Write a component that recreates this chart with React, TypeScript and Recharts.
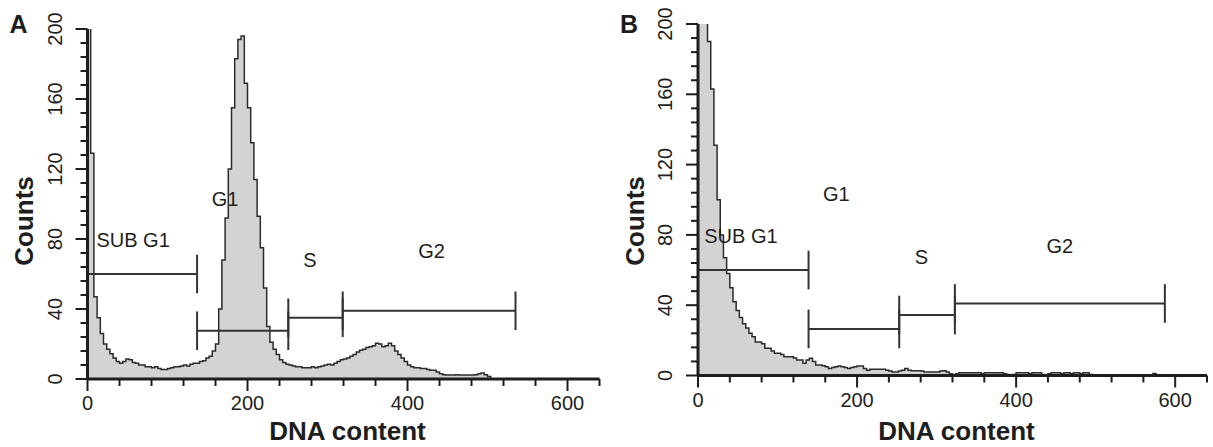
import React from 'react';
import { AreaChart, Area, XAxis, YAxis, ReferenceLine, ReferenceDot } from 'recharts';

// ---------- data ----------
const BIN_WIDTH = 4;
const X_MAX = 640;

const xTicks = [0, 40, 80, 120, 160, 200, 240, 280, 320, 360, 400, 440, 480, 520, 560, 600, 640];
const xLabelTicks = [0, 200, 400, 600];
const yTicks = [0, 8, 16, 24, 32, 40, 48, 56, 64, 72, 80, 88, 96, 104, 112, 120, 128, 136, 144, 152, 160, 168, 176, 184, 192, 200];
const yLabelTicks = [0, 40, 80, 120, 160, 200];

// Panel A histogram counts (bins of 4 DNA-content units, starting at 0)
const countsA = [
  400, 129, 47, 35, 26, 20, 17, 14.5, 12, 10,
  9, 10, 11.5, 11, 9.5, 9, 8, 8, 7, 7,
  6.5, 7, 6, 5.5, 5.5, 6, 6.5, 7, 7, 7.5,
  8, 7.5, 8.5, 9, 9, 10, 10.5, 12, 13, 16,
  20, 40, 68, 92, 120, 155, 183, 194, 196, 169,
  155, 135, 114, 93, 75, 52, 30, 21, 17, 14,
  11, 9.5, 8.5, 8, 7.5, 7, 7, 6.5, 6.5, 6.5,
  7, 6.5, 7, 7.5, 8, 8.5, 8, 9, 10, 11,
  11.5, 12, 13, 14, 15.5, 16.5, 17, 18, 18.5, 19,
  20.5, 20, 18.5, 19, 20.5, 19, 16, 14, 12, 10,
  8, 7, 6.5, 6.5, 6, 6, 5.5, 5, 5, 4,
  3, 2.5, 2.3, 2.3, 2.3, 2.5, 2.3, 2.3, 2.3, 2.3,
  2.3, 2.5, 3, 3.5, 2.5, 1.5, 0,
];

// Panel B histogram counts
const countsB = [
  400, 400, 400, 190, 163, 131, 100, 80, 67, 58,
  50, 42, 37, 33, 29.5, 27, 24, 22, 19, 19,
  18, 15.5, 15.5, 14, 12.6, 12.6, 12, 10.7, 10.7, 10.7,
  10, 8.8, 8.8, 7, 8.8, 9.8, 8, 6, 6, 5.5,
  5, 4, 4.5, 5, 5.4, 5, 4.5, 4, 4.5, 5,
  5.4, 5.4, 4, 3, 3.5, 3.5, 3.5, 3.5, 3.5, 3,
  2.5, 2, 2, 2.5, 3, 4, 3, 2.7, 2.7, 2.7,
  2.5, 2, 2, 2, 2, 2, 2.5, 2.7, 2, 1,
  0, 1, 1.6, 1.6, 1.6, 1.6, 1.6, 1.6, 1.6, 1,
  1.6, 1.6, 1.6, 1.6, 1.6, 1.6, 1, 0.5, 0, 0.5,
  1.6, 1.6, 1.6, 1.6, 1, 1.6, 1.6, 1.6, 0.5, 0,
  1, 1.6, 1.6, 1.6, 1, 1.6, 1.6, 1, 1.6, 1.6,
  1, 1.6, 1.6, 0.5, 0, 0, 0, 0, 0, 0,
  0, 0, 0, 0, 0, 0, 0, 0, 0, 0,
  0, 0, 0, 1.2, 0,
];

const gateNames = ['SUB G1', 'G1', 'S', 'G2'];

const gateStartA = [0, 137, 251, 319];
const gateEndA = [137, 251, 319, 535];
const gateLevelA = [60, 27.6, 35, 39];
const labelXA = [57, 172, 278, 430];
const labelYA = [79.4, 103, 68, 73];

const gateStartB = [0, 139, 253, 323];
const gateEndB = [139, 253, 323, 587];
const gateLevelB = [60, 26.5, 34.4, 41];
const labelXB = [54, 174, 281, 455];
const labelYB = [79.6, 103.3, 67.7, 73.7];

const CAP_HALF = 11;

const toSeries = (counts: number[]) => [
  ...counts.map((c, i) => ({ x: i * BIN_WIDTH, count: c })),
  { x: X_MAX, count: 0 },
];

// ---------- styling ----------
const INK = '#1e1e1e';
const FILL = '#d3d3d3';
const FONT = '"Liberation Sans", Arial, Helvetica, sans-serif';

const XTick = (p: any) => {
  const { x, y, payload } = p;
  const v = payload.value;
  const major = xLabelTicks.includes(v);
  return (
    <g>
      <line x1={x} x2={x} y1={y} y2={y + (major ? 12 : 7)} stroke={INK} strokeWidth={2} />
      {major && (
        <text x={x} y={y + 31} textAnchor="middle" fontSize={20} fill={INK} fontFamily={FONT}>
          {v}
        </text>
      )}
    </g>
  );
};

const YTick = (p: any) => {
  const { x, y, payload } = p;
  const v = payload.value;
  const major = yLabelTicks.includes(v);
  const tx = x - 26;
  return (
    <g>
      <line x1={x - (major ? 12 : 7)} x2={x} y1={y} y2={y} stroke={INK} strokeWidth={2} />
      {major && (
        <text
          x={tx}
          y={y}
          transform={`rotate(-90, ${tx}, ${y})`}
          textAnchor="middle"
          fontSize={20}
          fill={INK}
          fontFamily={FONT}
        >
          {v}
        </text>
      )}
    </g>
  );
};

interface PanelProps {
  letter: string;
  counts: number[];
  starts: number[];
  ends: number[];
  levels: number[];
  lx: number[];
  ly: number[];
  width: number;
  margin: { top: number; right: number; bottom: number; left: number };
}

const Panel = ({ letter, counts, starts, ends, levels, lx, ly, width, margin }: PanelProps) => {
  const data = toSeries(counts);
  const yLabel = (props: any) => {
    const vb = props.viewBox || { x: 0, y: 0, width: 60, height: 0 };
    const axisX = vb.x + vb.width;
    const cx = axisX - 54.5;
    return (
      <g>
        <text
          x={cx}
          y={221}
          transform={`rotate(-90, ${cx}, 221)`}
          textAnchor="middle"
          fontSize={26}
          fontWeight="bold"
          fill={INK}
          fontFamily={FONT}
        >
          Counts
        </text>
        <text x={axisX - 78} y={33} fontSize={25} fontWeight="bold" fill={INK} fontFamily={FONT}>
          {letter}
        </text>
      </g>
    );
  };
  const xLabel = (props: any) => {
    const vb = props.viewBox || { x: 0, y: 0, width: 0, height: 0 };
    return (
      <text
        x={vb.x + vb.width / 2 + 4}
        y={440}
        textAnchor="middle"
        fontSize={26}
        fontWeight="bold"
        fill={INK}
        fontFamily={FONT}
      >
        DNA content
      </text>
    );
  };

  return (
    <AreaChart width={width} height={447} data={data} margin={margin}>
      <XAxis
        dataKey="x"
        type="number"
        domain={[0, X_MAX]}
        ticks={xTicks}
        interval={0}
        allowDataOverflow
        height={60}
        tickLine={false}
        tickSize={0}
        tickMargin={0}
        tick={XTick}
        axisLine={{ stroke: INK, strokeWidth: 3 }}
        label={xLabel}
      />
      <YAxis
        type="number"
        domain={[0, 200]}
        ticks={yTicks}
        interval={0}
        allowDataOverflow
        width={60}
        tickLine={false}
        tickSize={0}
        tickMargin={0}
        tick={YTick}
        axisLine={{ stroke: INK, strokeWidth: 3 }}
        label={yLabel}
      />
      <Area
        type="stepAfter"
        dataKey="count"
        stroke="#2b2b2b"
        strokeWidth={1.5}
        fill={FILL}
        fillOpacity={1}
        dot={false}
        activeDot={false}
        isAnimationActive={false}
      />
      {gateNames.map((name, i) => (
        <ReferenceLine
          key={`h-${name}`}
          segment={[
            { x: starts[i], y: levels[i] },
            { x: ends[i], y: levels[i] },
          ]}
          stroke="#333"
          strokeWidth={2}
        />
      ))}
      {gateNames.map((name, i) =>
        starts[i] > 0 ? (
          <ReferenceLine
            key={`cs-${name}`}
            segment={[
              { x: starts[i], y: levels[i] - CAP_HALF },
              { x: starts[i], y: levels[i] + CAP_HALF },
            ]}
            stroke="#333"
            strokeWidth={2}
          />
        ) : null
      )}
      {gateNames.map((name, i) => (
        <ReferenceLine
          key={`ce-${name}`}
          segment={[
            { x: ends[i], y: levels[i] - CAP_HALF },
            { x: ends[i], y: levels[i] + CAP_HALF },
          ]}
          stroke="#333"
          strokeWidth={2}
        />
      ))}
      {gateNames.map((name, i) => (
        <ReferenceDot
          key={`l-${name}`}
          x={lx[i]}
          y={ly[i]}
          r={0}
          fill="none"
          stroke="none"
          label={{ value: name, position: 'center', fontSize: 20, fill: INK, fontFamily: FONT }}
        />
      ))}
    </AreaChart>
  );
};

export default function App() {
  return (
    <div
      style={{
        position: 'absolute',
        left: 0,
        top: 0,
        width: 1213,
        height: 447,
        background: '#ffffff',
        fontFamily: FONT,
        overflow: 'hidden',
      }}
    >
      <div style={{ position: 'absolute', left: 0, top: 0 }}>
        <Panel
          letter="A"
          counts={countsA}
          starts={gateStartA}
          ends={gateEndA}
          levels={gateLevelA}
          lx={labelXA}
          ly={labelYA}
          width={610}
          margin={{ top: 29, right: 10.5, bottom: 8, left: 27.5 }}
        />
      </div>
      <div style={{ position: 'absolute', left: 610, top: 0 }}>
        <Panel
          letter="B"
          counts={countsB}
          starts={gateStartB}
          ends={gateEndB}
          levels={gateLevelB}
          lx={labelXB}
          ly={labelYB}
          width={603}
          margin={{ top: 24, right: 6, bottom: 11.5, left: 28 }}
        />
      </div>
    </div>
  );
}
